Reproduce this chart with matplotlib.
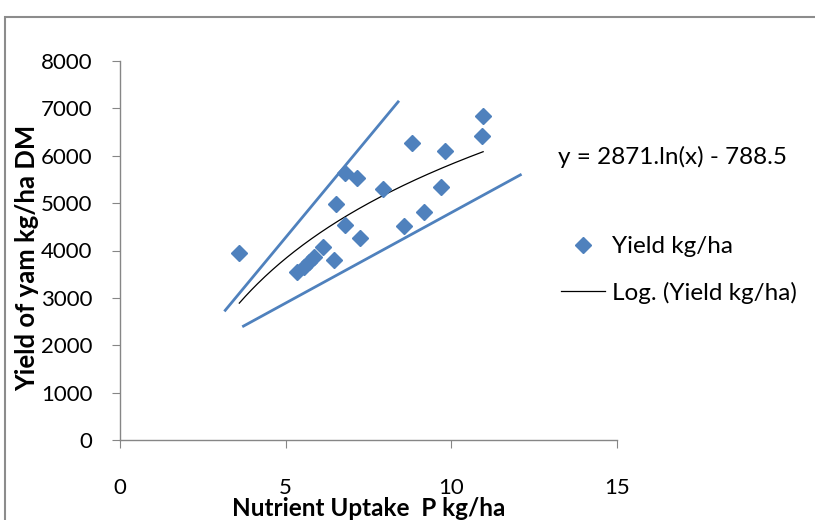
import numpy as np
import matplotlib.pyplot as plt
from matplotlib.patches import Rectangle

plt.rcParams['font.family'] = ['Lato', 'DejaVu Sans']

# P uptake (kg/ha) and yam yield (kg/ha DM)
p_uptake = [3.6, 5.35, 5.55, 5.7, 5.85, 6.13, 6.46, 6.52, 6.79, 6.79, 7.15,
            7.25, 7.93, 8.58, 8.81, 9.17, 9.68, 9.8, 10.94, 10.96]
yield_dm = [3940, 3550, 3650, 3760, 3860, 4070, 3790, 4990, 4530, 5640, 5540,
            4270, 5290, 4510, 6270, 4810, 5350, 6100, 6410, 6840]

# logarithmic trend coefficients
a_coef = 2871
b_coef = -788.5

# hand-drawn envelope lines
upper_x = [3.15, 8.42]
upper_y = [2715, 7160]
lower_x = [3.69, 12.12]
lower_y = [2390, 5610]

x_ticks = [0, 5, 10, 15]
y_ticks = [0, 1000, 2000, 3000, 4000, 5000, 6000, 7000, 8000]

blue = '#4F81BD'
grey = '#868686'

W, H = 815, 520
fig = plt.figure(figsize=(W / 100, H / 100), dpi=100)

# outer chart border (runs off the right and bottom edges)
fig.patches.append(Rectangle((5 / W, -0.1), 1.2, 1 - 17 / H + 0.1,
                             transform=fig.transFigure, fill=False,
                             edgecolor='#8c8c8c', linewidth=1.5))

ax = fig.add_axes([120 / W, (H - 440) / H, (617 - 120) / W, (440 - 61) / H])

ax.plot(upper_x, upper_y, color=blue, lw=2, solid_capstyle='butt')
ax.plot(lower_x, lower_y, color=blue, lw=2, solid_capstyle='butt')

xs = np.linspace(min(p_uptake), max(p_uptake), 200)
trend, = ax.plot(xs, a_coef * np.log(xs) + b_coef, color='black', lw=0.9,
                 label='Log. (Yield kg/ha)')
pts, = ax.plot(p_uptake, yield_dm, 'D', color=blue, ms=8.5, mec=blue,
               label='Yield kg/ha', zorder=3)

ax.set_xlim(0, 15)
ax.set_ylim(0, 8000)
ax.set_xticks(x_ticks)
ax.set_yticks(y_ticks)

for s in ('top', 'right'):
    ax.spines[s].set_visible(False)
for s in ('left', 'bottom'):
    ax.spines[s].set_color(grey)
    ax.spines[s].set_linewidth(1)
ax.tick_params(axis='y', length=6, color=grey, labelsize=16, pad=14)
ax.tick_params(axis='x', length=6, color=grey, labelsize=16, pad=21)

# axis titles placed directly in figure pixels
fig.text(369 / W, 1 - 508 / H, 'Nutrient Uptake  P kg/ha', fontsize=17.5,
         fontweight='bold', ha='center', va='center')
fig.text(27 / W, 1 - 258 / H, 'Yield of yam kg/ha DM', fontsize=18.5,
         fontweight='bold', ha='center', va='center', rotation=90)

fig.text(558 / W, 1 - 157 / H, 'y = 2871.ln(x) - 788.5', fontsize=17.5,
         va='center', ha='left')

leg = fig.legend(handles=[pts, trend], loc='upper left',
                 bbox_to_anchor=(549 / W, 1 - 224 / H), frameon=False,
                 fontsize=17.5, handlelength=1.8, handletextpad=0.3,
                 labelspacing=1.0, borderpad=0)

fig.savefig('out.png', dpi=100)
